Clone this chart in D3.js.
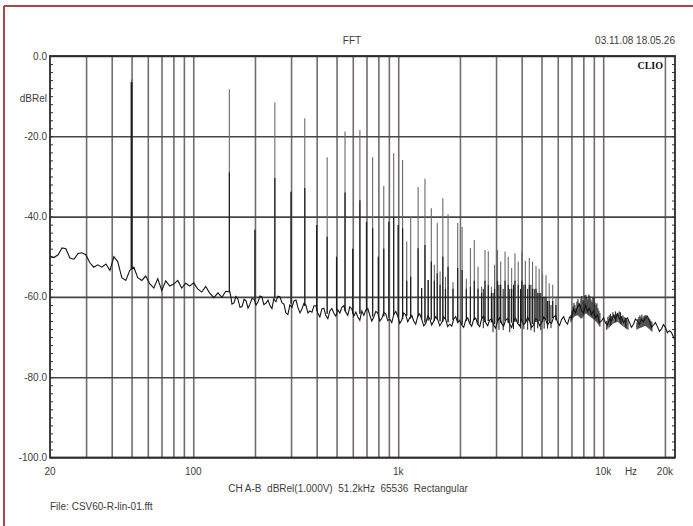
<!DOCTYPE html>
<html>
<head>
<meta charset="utf-8">
<script src="https://cdnjs.cloudflare.com/ajax/libs/d3/7.8.5/d3.min.js"></script>
<style>
  body{margin:0;background:#fff}
  text{font-family:"Liberation Sans",Arial,sans-serif;fill:#3c3c3c;font-size:10px}
</style>
</head>
<body>
<div id="chart"></div>
<script>
// axis / grid values
const yTicks = [0,-20,-40,-60,-80,-100];
const xLabelHz = [20,100,1000,10000,20000];
const xLabelText = ["20","100","1k","10k","20k"];
const gridHz = [30,40,50,60,70,80,90,100,200,300,400,500,600,700,800,900,1000,
                2000,3000,4000,5000,6000,7000,8000,9000,10000,20000];

// noise floor
const floorHz = [20,20.9,21.9,22.9,23.9,25,26.2,27.4,28.6,29.9,31.3,32.7,34.2,35.8,37.5,39.2,41,42.8,44.8,46.9,
  49,51.3,53.6,56.1,58.6,61.3,64.2,67.1,70.2,73.4,76.8,80.3,84,87.8,91.9,96.1,100.5,105,110,115,
  120,126,132,138,144,151,158,165,173,181,189,198,207,216,226,237,247,259,271,283,
  296,310,324,339,354,371,388,405,424,443,464,485,507,531,555,580,607,635,664,695,
  726,760,795,831,869,909,951,995,1040,1088,1138,1190,1245,1302,1362,1424,1490,1558,1630,1704,
  1783,1865,1950,2040,2133,2231,2334,2441,2553,2670,2793,2921,3055,3195,3342,3495,3656,3823,3999,4182,
  4374,4575,4785,5005,5234,5475,5726,5989,6264,6551,6852,7166,7495,7839,8199,8575,8969,9380,9811,10261,
  10732,11225,11740,12279,12842,13432,14048,14693,15368,16073,16811,17583,18390,19234,20117,21040,22006,22260];
const floorDb = [-49.8,-50.2,-49.5,-47.8,-48.0,-50.3,-50.6,-49.2,-49.0,-49.5,-51.5,-52.6,-52.0,-52.6,-51.8,-53.4,-50.0,-51.2,-55.2,-55.9,
  -53.4,-52.6,-55.2,-55.9,-54.8,-56.7,-57.8,-55.5,-58.4,-56.0,-57.3,-56.8,-55.9,-57.8,-56.6,-57.3,-56.5,-58.0,-58.8,-57.4,
  -59.0,-60.2,-59.0,-60.1,-58.6,-58.8,-61.5,-60.5,-62.4,-61.0,-61.8,-60.6,-61.2,-60.0,-61.6,-62.2,-60.5,-59.8,-61.5,-64.0,
  -62.0,-61.0,-62.6,-63.0,-62.0,-63.5,-62.2,-64.0,-63.0,-64.6,-63.5,-64.0,-63.2,-62.6,-63.8,-62.5,-64.8,-65.0,-63.5,-63.3,
  -64.5,-65.0,-64.0,-65.4,-64.2,-65.5,-64.4,-64.8,-65.8,-64.5,-65.2,-66.0,-64.8,-65.6,-66.6,-65.4,-66.0,-65.6,-66.4,-65.6,
  -66.8,-65.5,-66.4,-67.0,-65.8,-66.6,-65.6,-66.8,-65.4,-66.4,-65.8,-67.0,-66.0,-66.6,-65.8,-66.8,-66.0,-66.6,-65.6,-66.4,
  -66.0,-67.0,-65.8,-66.4,-65.6,-66.2,-65.0,-66.4,-65.6,-66.2,-65.0,-63.0,-62.5,-63.5,-62.0,-62.8,-63.5,-64.5,-66.0,-66.5,
  -65.5,-64.6,-64.2,-65.0,-65.8,-66.4,-66.8,-66.0,-65.6,-65.2,-66.0,-67.0,-67.4,-68.0,-67.6,-68.4,-70.0,-70.5];

// in-between points of the floor above 150 Hz (the trace is very jagged there)
const jitterHz = [154.5,161.5,169,177,185,193.5,202.5,211.5,221,231.5,242,253,265,277,289.5,303,317,331.5,346.5,362.5,
  379.5,396.5,414.5,433.5,453.5,474.5,496,519,543,567.5,593.5,621,649.5,679.5,710.5,743,777.5,813,850,889,
  930,973,1017,1064,1113,1164,1217,1273,1332,1393,1457,1524,1594,1667,1743,1824,1907,1995,2086,2182,
  2282,2387,2497,2611,2731,2856,2987,3124,3268,3418,3575,3739,3910,4090,4277,4473,4679,4894,5118,5353,
  5599,5856,6125,6406,6700,7007,7329,7665,8017,8385,8770,9172,9593,10034,10494,10976,11480,12006,12557,13134,
  13737,14367,15027,15717,16438,17193,17982,18808,19671,20574,21517];
const jitterDb = [-61.8,-59.9,-62.6,-60.6,-62.8,-60.4,-62.0,-59.8,-61.9,-60.8,-62.9,-61.2,-60.0,-61.8,-64.4,-62.6,-60.8,-64.0,-61.6,-64.0,
  -63.8,-62.2,-65.0,-62.8,-65.4,-62.9,-64.8,-64.0,-62.2,-64.6,-63.0,-63.8,-65.8,-64.6,-62.9,-66.0,-63.6,-66.0,-63.9,-65.9,
  -66.4,-63.6,-66.6,-64.0,-66.2,-64.6,-66.8,-64.2,-67.2,-64.8,-67.0,-64.9,-67.2,-65.0,-67.4,-67.3,-64.9,-65.8,-67.6,-65.2,
  -67.3,-65.3,-67.4,-64.8,-67.2,-65.4,-67.8,-65.2,-67.3,-65.4,-67.6,-65.3,-67.2,-66.9,-65.1,-67.6,-65.4,-67.2,-65.0,-67.0,
  -66.6,-64.6,-67.1,-64.9,-66.8,-65.2,-64.0,-61.8,-64.0,-63.6,-64.4,-65.2,-66.4,-65.2,-67.0,-66.0,-65.4,-65.6,-66.4,-65.2,
  -67.6,-65.5,-66.8,-66.2,-64.8,-67.6,-66.4,-68.6,-66.9,-68.9,-68.8];

// harmonic spikes: frequency, peak level, level of the dark lower part
const spikeHz = [50,150,200,250,300,350,400,450,500,550,600,650,700,750,800,850,900,950,1000,1050,
  1100,1150,1250,1300,1350,1400,1450,1500,1550,1600,1650,1700,1750,1850,1950,2050,2150,2250,2350,2450,
  2550,2650,2750,2850,2950,3050,3160,3320,3440,3575,3710,3850,4010,4170,4360,4520,4700,4870,5060,5260,
  5450,5670,5880];
const spikePeak = [-5.8,-8.3,-43.3,-11.6,-33.8,-15.5,-42.1,-25.2,-50,-18.8,-48,-18.4,-41.3,-25.2,-50,-32.4,-41.3,-24.2,-42.1,-25.9,
  -46.2,-39.9,-32.6,-57.8,-30.6,-55.8,-37.9,-52,-41.6,-53.7,-35.4,-55,-39.4,-56.3,-41.6,-42.6,-55.5,-47.8,-45.8,-52.5,
  -57.5,-48.3,-48.6,-57.5,-52.0,-48.3,-51.2,-48.7,-50.0,-52.8,-49.1,-51.2,-48.7,-51.0,-50.3,-51.2,-52.3,-53.0,-54.3,-54.6,
  -56.6,-57.0,-60.0];
const spikeLow = [-6.5,-29,-43.3,-30.4,-33.8,-32.9,-42.1,-45,-50,-34,-48,-35.9,-41.3,-42.9,-50,-48,-41.3,-40,-42.1,-42.9,
  -56,-55,-47.9,-57.8,-47.1,-55.8,-51.2,-56,-54.1,-57,-50,-58,-52.5,-58,-52.8,-53.3,-58,-57.5,-56,-58,
  -59,-56,-57,-59,-58,-56,-57,-56,-57,-58,-56,-57,-56,-57,-57,-58,-58,-59,-60,-60,
  -61,-61,-62];

// dense low-level components (between harmonics and the humps above 7 kHz)
const clusterHz = [2600,2900,3100,3250,3500,3650,3950,4100,4280,4440,4610,4790,4960,5150,5350,5560,
  6960,7038,7118,7198,7280,7361,7444,7528,7613,7699,7786,7874,7963,8053,8144,8235,8328,8422,8517,8613,
  8710,8808,8907,9008,9110,9213,9317,9422,9528,9636,
  10400,10544,10695,10845,11000,11154,11310,11472,11635,11799,11967,12135,12306,12481,12657,12837,13020,13203,
  14600,14768,14935,15103,15273,15446,15620,15797,15975,16156,16340,16523,16710,16898,17090,17282];
const clusterDb = [-58,-59,-57,-58,-58,-57,-58,-57,-58,-57,-58,-59,-59,-60,-61,-62,
  -64.5,-63.5,-62.4,-61.5,-62.0,-62.8,-61.2,-60.5,-61.4,-61.8,-60.4,-59.8,-60.8,-61.0,-59.6,-59.5,-60.2,-60.6,-59.4,-59.8,
  -60.6,-61.2,-60.0,-60.2,-61.4,-62.0,-61.6,-62.8,-63.4,-64.0,
  -66.0,-65.0,-64.6,-64.2,-64.8,-63.8,-64.4,-63.6,-64.2,-64.0,-63.6,-63.8,-64.8,-64.6,-65.0,-65.2,-65.6,-65.8,
  -66.4,-65.5,-65.0,-64.6,-65.0,-64.4,-65.2,-64.8,-64.6,-64.5,-65.0,-65.2,-65.4,-65.6,-66.0,-66.2];

const W = 693, H = 526;
const pL = 50, pR = 675, pT = 56, pB = 457.5;

const x = d3.scaleLog().domain([20, 22400]).range([pL, pR]);
const y = d3.scaleLinear().domain([-100, 0]).range([pB, pT]);

const svg = d3.select("#chart").append("svg")
  .attr("width", W).attr("height", H)
  .style("background-color", "#fff");

// outer red frame (only top and left show in the picture)
svg.append("line").attr("x1",4).attr("x2",W).attr("y1",6).attr("y2",6)
  .attr("stroke","#a8464a").attr("stroke-width",2);
svg.append("line").attr("x1",4).attr("x2",4).attr("y1",6).attr("y2",H)
  .attr("stroke","#a8464a").attr("stroke-width",2);

// vertical grid
const xGrid = svg.append("g").attr("transform",`translate(0,${pB})`)
  .call(d3.axisBottom(x).tickValues(gridHz).tickSize(-(pB-pT)).tickFormat(""));
xGrid.select(".domain").remove();
xGrid.selectAll(".tick line").attr("stroke","#756d6d").attr("stroke-width",1.6);

// horizontal grid
const yGrid = svg.append("g").attr("transform",`translate(${pL},0)`)
  .call(d3.axisLeft(y).tickValues(yTicks).tickSize(-(pR-pL)).tickFormat(""));
yGrid.select(".domain").remove();
yGrid.selectAll(".tick line").attr("stroke","#4a4444").attr("stroke-width",1.6);

// minor ticks on both sides, pointing inward
const minor = d3.range(-100, 1, 2);
const lTicks = svg.append("g").attr("transform",`translate(${pL},0)`)
  .call(d3.axisRight(y).tickValues(minor).tickSize(3).tickFormat(""));
lTicks.select(".domain").remove();
lTicks.selectAll(".tick line").attr("stroke","#333");
const rTicks = svg.append("g").attr("transform",`translate(${pR},0)`)
  .call(d3.axisLeft(y).tickValues(minor).tickSize(3).tickFormat(""));
rTicks.select(".domain").remove();
rTicks.selectAll(".tick line").attr("stroke","#333");

// floor level under a spike
function floorAt(f){
  const i = d3.bisectLeft(floorHz, f);
  if (i <= 0) return floorDb[0];
  if (i >= floorHz.length) return floorDb[floorDb.length-1];
  const t = (Math.log(f)-Math.log(floorHz[i-1]))/(Math.log(floorHz[i])-Math.log(floorHz[i-1]));
  return floorDb[i-1] + t*(floorDb[i]-floorDb[i-1]);
}

const plot = svg.append("g");

// thin gray upper part of the harmonics
plot.selectAll(".spk").data(spikeHz).enter().append("line")
  .attr("class","spk")
  .attr("x1",d=>x(d)).attr("x2",d=>x(d))
  .attr("y1",(d,i)=>y(floorAt(d))).attr("y2",(d,i)=>y(spikePeak[i]))
  .attr("stroke","#6a6a6a").attr("stroke-width",1.1);

// dark lower part
plot.selectAll(".spkl").data(spikeHz).enter().append("line")
  .attr("class","spkl")
  .attr("x1",d=>x(d)).attr("x2",d=>x(d))
  .attr("y1",(d,i)=>y(floorAt(d))).attr("y2",(d,i)=>y(spikeLow[i]))
  .attr("stroke","#1e1e1e").attr("stroke-width",(d,i)=>i===0?2:1.2);

plot.selectAll(".cl").data(clusterHz).enter().append("line")
  .attr("class","cl")
  .attr("x1",d=>x(d)).attr("x2",d=>x(d))
  .attr("y1",d=>y(floorAt(d)-2)).attr("y2",(d,i)=>y(clusterDb[i]))
  .attr("stroke","#1a1a1a").attr("stroke-width",1);

// noise floor trace (main points + in-between points, sorted by frequency)
const trace = d3.zip(floorHz, floorDb).concat(d3.zip(jitterHz, jitterDb))
  .sort((a,b)=>a[0]-b[0]);
const line = d3.line().x(d=>x(d[0])).y(d=>y(d[1]));
plot.append("path").datum(trace)
  .attr("d", line).attr("fill","none")
  .attr("stroke","#141414").attr("stroke-width",1.1);

// plot frame
svg.append("rect").attr("x",pL).attr("y",pT)
  .attr("width",pR-pL).attr("height",pB-pT)
  .attr("fill","none").attr("stroke","#2e2a2a").attr("stroke-width",1.8);

// y labels
svg.append("g").selectAll("text").data(yTicks).enter().append("text")
  .attr("x",47).attr("y",d=>y(d)).attr("dy","0.35em")
  .attr("text-anchor","end").text(d=>d.toFixed(1));
svg.append("text").attr("x",47).attr("y",101.5).attr("text-anchor","end").text("dBRel");

// x labels
svg.append("g").selectAll("text").data(xLabelHz).enter().append("text")
  .attr("x",d=>x(d)).attr("y",475).attr("text-anchor","middle")
  .text((d,i)=>xLabelText[i]);
svg.append("text").attr("x",631).attr("y",475).attr("text-anchor","middle").text("Hz");

// header / footer texts
svg.append("text").attr("x",352).attr("y",43.5).attr("text-anchor","middle").text("FFT");
svg.append("text").attr("x",675).attr("y",43.5).attr("text-anchor","end").text("03.11.08 18.05.26");
svg.append("text").attr("x",663).attr("y",69).attr("text-anchor","end")
  .style("font-family",'"Liberation Serif",serif').style("font-weight","bold")
  .style("fill","#111").text("CLIO");
svg.append("text").attr("x",348).attr("y",492).attr("text-anchor","middle")
  .attr("xml:space","preserve").style("white-space","pre")
  .text("CH A-B  dBRel(1.000V)  51.2kHz  65536  Rectangular");
svg.append("text").attr("x",50).attr("y",510).text("File: CSV60-R-lin-01.fft");
</script>
</body>
</html>
